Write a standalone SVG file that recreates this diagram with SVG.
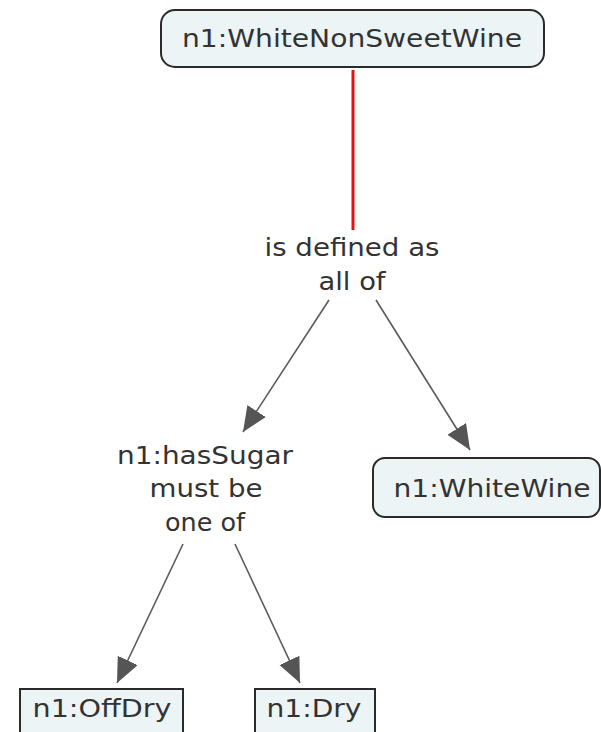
<svg xmlns="http://www.w3.org/2000/svg" width="601" height="732" viewBox="0 0 601 732">
<style>
.node{fill:#edf4f6;stroke:#2a2a2a;stroke-width:2}
.t{font-family:"DejaVu Sans",Verdana,sans-serif;font-size:25px;fill:#333;text-anchor:middle}
.c{stroke:#5a5a5a;stroke-width:1.6;fill:none}
</style>
<defs>
<marker id="ah" markerUnits="userSpaceOnUse" markerWidth="26" markerHeight="24" refX="25" refY="11" orient="auto">
<path d="M0,0 L25,11 L0,22 z" fill="#555"/>
</marker>
</defs>
<g id="connectors">
<line x1="353" y1="70" x2="353" y2="230" stroke="#e81010" stroke-width="3"/>
<line class="c" x1="329" y1="300" x2="243" y2="432" marker-end="url(#ah)"/>
<line class="c" x1="376" y1="300" x2="470" y2="450" marker-end="url(#ah)"/>
<line class="c" x1="183" y1="544" x2="117" y2="683" marker-end="url(#ah)"/>
<line class="c" x1="235" y1="544" x2="300" y2="683" marker-end="url(#ah)"/>
</g>
<g id="n_WhiteNonSweetWine">
<rect class="node" x="161" y="10" width="383" height="57" rx="14"/>
<text class="t" x="352" y="47" textLength="340" lengthAdjust="spacingAndGlyphs">n1:WhiteNonSweetWine</text>
</g>
<g id="l_definedAs">
<text class="t" x="352" y="256" textLength="175" lengthAdjust="spacingAndGlyphs">is defined as</text>
<text class="t" x="352" y="290" textLength="67" lengthAdjust="spacingAndGlyphs">all of</text>
</g>
<g id="l_hasSugar">
<text class="t" x="205" y="464" textLength="176" lengthAdjust="spacingAndGlyphs">n1:hasSugar</text>
<text class="t" x="206" y="497" textLength="113" lengthAdjust="spacingAndGlyphs">must be</text>
<text class="t" x="205" y="531" textLength="80" lengthAdjust="spacingAndGlyphs">one of</text>
</g>
<g id="n_WhiteWine">
<rect class="node" x="373" y="458" width="227" height="59" rx="12"/>
<text class="t" x="492" y="497" textLength="197" lengthAdjust="spacingAndGlyphs">n1:WhiteWine</text>
</g>
<g id="n_OffDry">
<rect class="node" x="20" y="689" width="163" height="50"/>
<text class="t" x="102" y="717" textLength="139" lengthAdjust="spacingAndGlyphs">n1:OffDry</text>
</g>
<g id="n_Dry">
<rect class="node" x="255" y="689" width="120" height="50"/>
<text class="t" x="314" y="717" textLength="95" lengthAdjust="spacingAndGlyphs">n1:Dry</text>
</g>
</svg>
